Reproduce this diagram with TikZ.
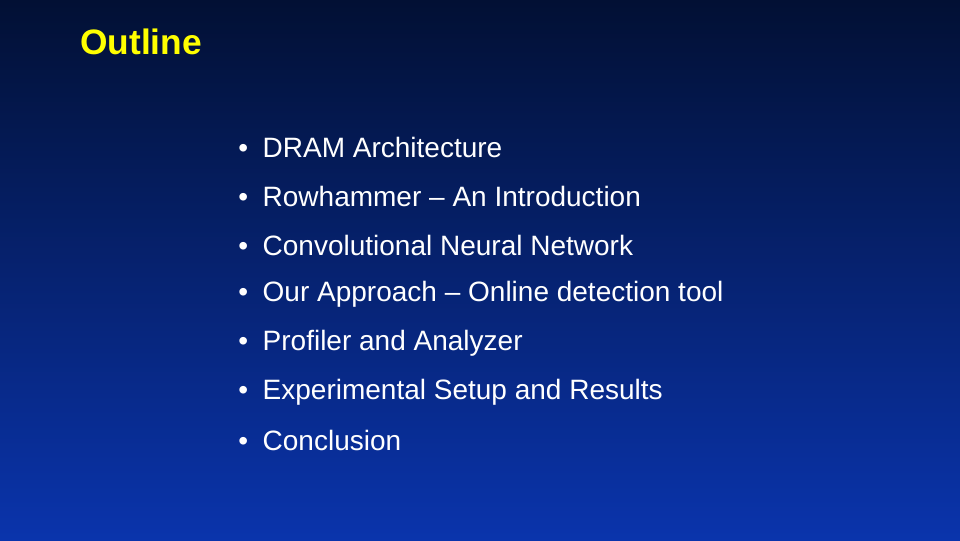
\documentclass[tikz,border=0pt]{standalone}
\usepackage{fontspec}
\setmainfont{Liberation Sans}
\usepackage{xcolor}
\definecolor{slidetop}{RGB}{2,16,52}
\definecolor{slidebot}{RGB}{10,52,172}
\definecolor{titleyellow}{RGB}{255,255,0}
\begin{document}
\begin{tikzpicture}[x=0.75pt,y=0.75pt,yscale=-1,xscale=1,
  item/.style={anchor=west,text=white,font=\fontsize{21}{24}\selectfont,inner sep=0pt}]
%Shape: Background
\shade [top color=slidetop,bottom color=slidebot] (0,0) rectangle (960,540);
\useasboundingbox (0,0) rectangle (960,540);

% Title
\node (title) [anchor=west,inner sep=0pt,text=titleyellow,font=\fontsize{26.5}{30}\selectfont\bfseries] at (80,42) {Outline};

% Bullet list
\node (b1) [item] at (238,147) {•\hspace{11pt}DRAM Architecture};
\node (b2) [item] at (238,196) {•\hspace{11pt}Rowhammer – An Introduction};
\node (b3) [item] at (238,245) {•\hspace{11pt}Convolutional Neural Network};
\node (b4) [item] at (238,294) {•\hspace{11pt}Our Approach – Online detection tool};
\node (b5) [item] at (238,343) {•\hspace{11pt}Profiler and Analyzer};
\node (b6) [item] at (238,392) {•\hspace{11pt}Experimental Setup and Results};
\node (b7) [item] at (238,440) {•\hspace{11pt}Conclusion};

\end{tikzpicture}
\end{document}
